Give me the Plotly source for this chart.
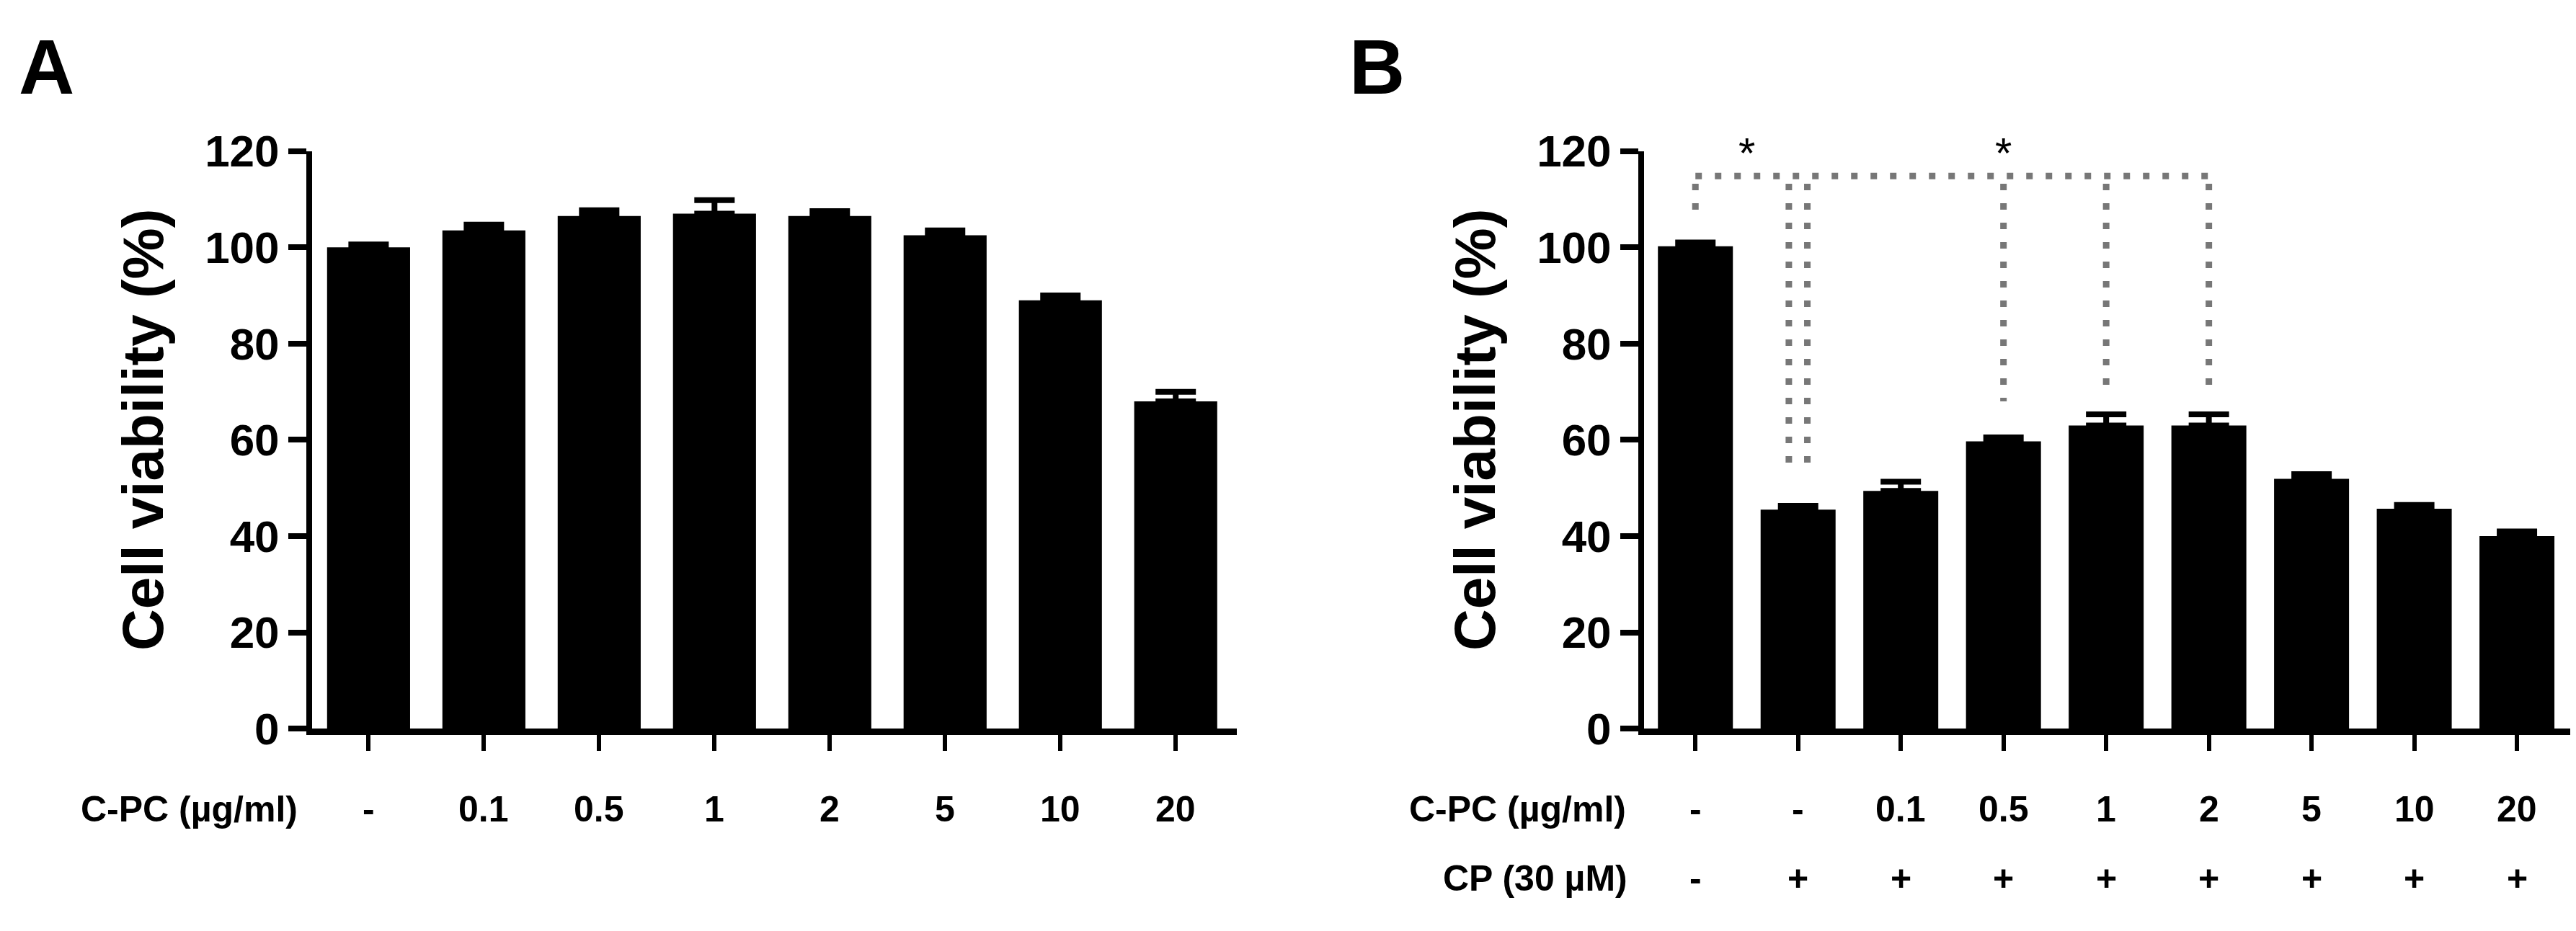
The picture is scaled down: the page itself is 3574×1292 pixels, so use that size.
import plotly.graph_objects as go

# Panel A: C-PC alone
a_labels = ["-", "0.1", "0.5", "1", "2", "5", "10", "20"]
a_mean = [100, 103.5, 106.5, 107, 106.5, 102.5, 89, 68]
a_err = [0.6, 1.2, 1.2, 2.8, 1.0, 1.0, 1.0, 2.0]

# Panel B: C-PC with cisplatin (CP 30 uM)
b_cpc = ["-", "-", "0.1", "0.5", "1", "2", "5", "10", "20"]
b_cp = ["-", "+", "+", "+", "+", "+", "+", "+", "+"]
b_mean = [100.2, 45.5, 49.4, 59.7, 63, 63, 51.9, 45.7, 40]
b_err = [0.8, 0.8, 1.9, 0.8, 2.3, 2.3, 1.0, 0.8, 1.0]

# significance brackets in B
sig_y = 114.8
sig_span = [0, 5]
drop_idx = [0, 1, 3, 4, 5]
drop_end = [105.5, 55, 68, 71.3, 71.3]
star_x = [0.5, 3]
star_y = 119.6

y_ticks = [0, 20, 40, 60, 80, 100, 120]

W, H = 3574, 1292
FONT = "Liberation Sans, Arial, sans-serif"


def err(vals):
    return dict(type="data", array=vals, arrayminus=[0] * len(vals), symmetric=False,
                color="black", thickness=8, width=28)


fig = go.Figure()
fig.add_trace(go.Bar(x=list(range(len(a_labels))), y=a_mean, width=0.72,
                     marker=dict(color="black", line_width=0), error_y=err(a_err),
                     xaxis="x", yaxis="y"))
fig.add_trace(go.Bar(x=list(range(len(b_cpc))), y=b_mean, width=0.73,
                     marker=dict(color="black", line_width=0), error_y=err(b_err),
                     xaxis="x2", yaxis="y2"))

# dotted comparison lines (double line over the CP-only bar)
lx, ly = [sig_span[0], sig_span[1], None], [sig_y, sig_y, None]
for i, end in zip(drop_idx, drop_end):
    offs = [-0.09, 0.09] if i == 1 else [0]
    for o in offs:
        lx += [i + o, i + o, None]
        ly += [sig_y - 1.6, end, None]
fig.add_trace(go.Scatter(x=lx, y=ly, mode="lines", xaxis="x2", yaxis="y2",
                         line=dict(color="#777777", width=9, dash="9px,18px"),
                         hoverinfo="skip"))

yax = dict(range=[0, 120], tickvals=y_ticks, ticks="outside", ticklen=25, tickwidth=8,
           tickcolor="black", showline=True, linewidth=8, linecolor="black",
           showgrid=False, zeroline=False, domain=[0.2074, 0.863],
           tickfont=dict(family=FONT, size=62, color="black", weight="bold"))
xax = dict(ticks="outside", ticklen=22, tickwidth=6, tickcolor="black",
           showticklabels=False, showline=True, linewidth=9, linecolor="black",
           showgrid=False, zeroline=False)

fig.update_layout(
    width=W, height=H, margin=dict(l=0, r=0, t=0, b=0),
    paper_bgcolor="white", plot_bgcolor="white", showlegend=False,
    xaxis=dict(xax, domain=[425 / W, 1708 / W], range=[-0.49, 7.53],
               tickvals=list(range(len(a_labels)))),
    yaxis=dict(yax, anchor="x"),
    xaxis2=dict(xax, domain=[2273 / W, 3561 / W], range=[-0.5, 8.54],
                tickvals=list(range(len(b_cpc))), anchor="y2"),
    yaxis2=dict(yax, anchor="x2"),
)

lab = dict(family=FONT, size=50, color="black", weight="bold")
ann = []
row1 = 1 - 1142 / H
row2 = 1 - 1243 / H
for i, t in enumerate(a_labels):
    ann.append(dict(x=i, y=row1, xref="x", yref="paper", text=t, showarrow=False,
                    font=lab, xanchor="center", yanchor="middle"))
for i, (t1, t2) in enumerate(zip(b_cpc, b_cp)):
    ann.append(dict(x=i, y=row1, xref="x2", yref="paper", text=t1, showarrow=False,
                    font=lab, xanchor="center", yanchor="middle"))
    ann.append(dict(x=i, y=row2, xref="x2", yref="paper", text=t2, showarrow=False,
                    font=lab, xanchor="center", yanchor="middle"))
ann.append(dict(x=407 / W, y=row1, xref="paper", yref="paper", text="C-PC (µg/ml)",
                showarrow=False, font=lab, xanchor="right", yanchor="middle"))
ann.append(dict(x=2250 / W, y=row1, xref="paper", yref="paper", text="C-PC (µg/ml)",
                showarrow=False, font=lab, xanchor="right", yanchor="middle"))
ann.append(dict(x=2252 / W, y=row2, xref="paper", yref="paper", text="CP (30 µM)",
                showarrow=False, font=lab, xanchor="right", yanchor="middle"))

# y-axis titles
for xp, yr in [(190 / W, "y"), (2038 / W, "y2")]:
    ann.append(dict(x=xp, y=62, xref="paper", yref=yr, text="Cell viability (%)",
                    textangle=-90, showarrow=False, xanchor="center", yanchor="middle",
                    font=dict(family=FONT, size=80, color="black", weight="bold")))

# panel letters
for xp, t in [(16 / W, "A"), (1862 / W, "B")]:
    ann.append(dict(x=xp, y=1 - 54 / H, xref="paper", yref="paper", text=t,
                    showarrow=False, xanchor="left", yanchor="middle",
                    font=dict(family=FONT, size=107, color="black", weight="bold")))

# significance stars
for sx in star_x:
    ann.append(dict(x=sx, y=star_y, xref="x2", yref="y2", text="*", showarrow=False,
                    xanchor="center", yanchor="middle",
                    font=dict(family=FONT, size=60, color="black")))

fig.update_layout(annotations=ann)
fig.write_html("out.html")
